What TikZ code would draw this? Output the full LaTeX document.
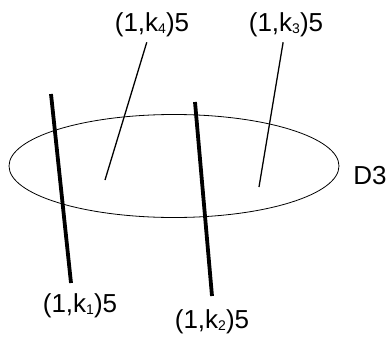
\documentclass[tikz,border=0pt]{standalone}
\usepackage{fontspec}
\setmainfont{Liberation Sans}
\newcommand{\ksub}[1]{\raisebox{-2pt}{\fontsize{14}{14}\selectfont #1}}
\tikzset{
  brane/.style={line width=3.8pt},
  fstring/.style={line width=1.3pt},
  charge/.style={font=\fontsize{26}{30}\selectfont, inner sep=5pt},
}
\begin{document}
\begin{tikzpicture}[x=1pt,y=-1pt]
  \useasboundingbox (0,0) rectangle (388,337);
  % the D3 disc
  \draw[line width=0.8pt] (174,166) ellipse [x radius=165, y radius=51.5];
  \node[charge] (d3) at (370,176) {D3};
  % labels
  \node[charge] (k4) at (152,25) {(1,k\ksub{4})5};
  \node[charge] (k3) at (286,25) {(1,k\ksub{3})5};
  \node[charge] (k1) at (80,306) {(1,k\ksub{1})5};
  \node[charge] (k2) at (212,322) {(1,k\ksub{2})5};
  % ends on the disc
  \coordinate (e4) at (105,180);
  \coordinate (e3) at (259,187);
  \draw[fstring] (k4) -- (e4);
  \draw[fstring] (k3) -- (e3);
  % branes through the disc
  \coordinate (t1) at (51,94);
  \coordinate (b1) at (71,283);
  \coordinate (t2) at (195,102);
  \coordinate (b2) at (212,296);
  \draw[brane] (t1) -- (b1);
  \draw[brane] (t2) -- (b2);
\end{tikzpicture}
\end{document}
